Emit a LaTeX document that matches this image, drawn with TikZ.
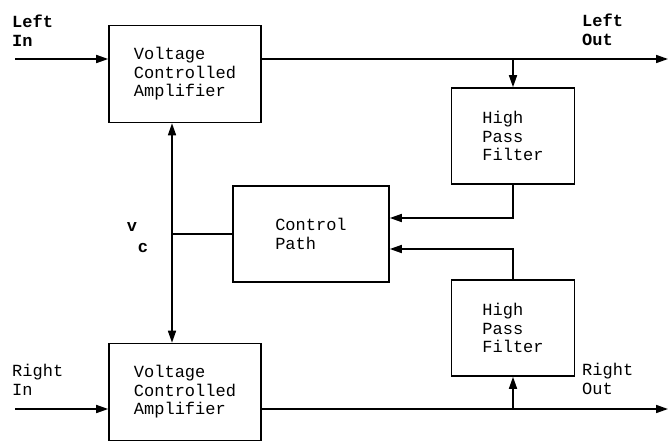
\documentclass[tikz,border=0pt]{standalone}
\usepackage{fontspec}
\setmonofont{Liberation Mono}
\usetikzlibrary{arrows.meta,positioning}
\newcommand{\blkfont}{\fontsize{17}{18.5}\selectfont\ttfamily}
\tikzset{
  blk/.style={draw, line width=1.6pt, align=left, font=\blkfont, inner sep=0pt},
  vca/.style={blk, minimum width=152pt, minimum height=97pt},
  hpf/.style={blk, minimum width=123pt, minimum height=96pt},
  sig/.style={-{Triangle[length=12pt,width=8pt]}, line width=1.6pt},
  both/.style={{Triangle[length=12pt,width=8pt]}-{Triangle[length=12pt,width=8pt]}, line width=1.6pt},
  wire/.style={line width=1.6pt},
  lab/.style={font=\blkfont, align=left, inner sep=0pt, anchor=north west},
}
\begin{document}
\begin{tikzpicture}[x=1pt, y=-1pt]
  \useasboundingbox (0,0) rectangle (669,444);
  \node[vca] (vcaL) at (185,74) {Voltage\\Controlled\\Amplifier};
  \node[vca] (vcaR) at (185,392) {Voltage\\Controlled\\Amplifier};
  \node[blk, minimum width=156pt, minimum height=96pt] (cp) at (311,234) {Control\\Path};
  \node[hpf] (hpfL) at (513,136) {High\\Pass\\Filter};
  \node[hpf] (hpfR) at (513,328) {High\\Pass\\Filter};
  \coordinate (inL) at (15,59); \coordinate (outL) at (668,59);
  \coordinate (inR) at (15,409); \coordinate (outR) at (668,409);
  \coordinate (vc) at (172,234);
  % left channel
  \draw[sig] (inL) -- (inL -| vcaL.west);
  \draw[sig] (inL -| vcaL.east) -- (outL);
  \draw[sig] (hpfL.north |- outL) -- (hpfL.north);
  \draw[sig] (hpfL.south) |- ([yshift=16pt]cp.east);
  % right channel
  \draw[sig] (inR) -- (inR -| vcaR.west);
  \draw[sig] (inR -| vcaR.east) -- (outR);
  \draw[sig] (hpfR.south |- outR) -- (hpfR.south);
  \draw[sig] (hpfR.north) |- ([yshift=-15pt]cp.east);
  % control voltage
  \draw[both] (vcaL.south -| vc) -- (vcaR.north -| vc);
  \draw[wire] (vc) -- (cp.west);
  \node[lab, font=\blkfont\bfseries] (leftin) at (12,15) {Left\\In};
  \node[lab, font=\blkfont\bfseries] (leftout) at (582,14) {Left\\Out};
  \node[lab] (rightin) at (12,364) {Right\\In};
  \node[lab] (rightout) at (582,363) {Right\\Out};
  \node[font=\blkfont\bfseries] (v) at (132,227) {v};
  \node[font=\blkfont\bfseries] (c) at (143,248) {c};
\end{tikzpicture}
\end{document}
